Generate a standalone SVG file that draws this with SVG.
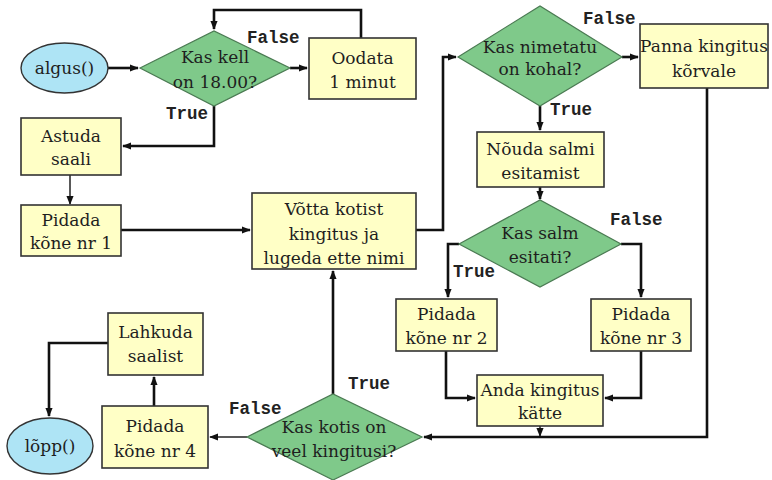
<svg xmlns="http://www.w3.org/2000/svg" width="772" height="480" viewBox="0 0 772 480">
  <defs>
    <marker id="arrow" viewBox="0 0 10 10" refX="9" refY="5" markerWidth="9" markerHeight="9" markerUnits="userSpaceOnUse" orient="auto">
      <path d="M0,1 L10,5 L0,9 z" fill="#111"/>
    </marker>
    <style>
      .box { fill: #ffffc6; stroke: #333; stroke-width: 1.6; }
      .dec { fill: #7fc98a; stroke: #4a7a52; stroke-width: 1.2; }
      .term { fill: #aee4f5; stroke: #333; stroke-width: 1.4; }
      .t { font-family: "DejaVu Serif", "Liberation Serif", serif; font-size: 17px; fill: #1e1e1e; text-anchor: middle; }
      .lbl { font-family: "Liberation Mono", "DejaVu Sans Mono", monospace; font-size: 17.5px; font-weight: bold; fill: #222; }
      .c { fill: none; stroke: #111; stroke-width: 2.6; }
      .thin { fill: none; stroke: #222; stroke-width: 1.5; }
    </style>
  </defs>
  <rect width="772" height="480" fill="#ffffff"/>

  <!-- connectors -->
  <g id="connectors">
    <path class="c" d="M108,68 H138" marker-end="url(#arrow)"/>
    <path class="c" d="M290,68 H307" marker-end="url(#arrow)"/>
    <path class="c" d="M361,38 V10 H214 V29" marker-end="url(#arrow)"/>
    <path class="c" d="M214,106 V146 H123" marker-end="url(#arrow)"/>
    <path class="thin" d="M70,175 V204" marker-end="url(#arrow)"/>
    <path class="c" d="M121,230 H250" marker-end="url(#arrow)"/>
    <path class="c" d="M416,230 H443 V57 H456" marker-end="url(#arrow)"/>
    <path class="c" d="M622,57 H638" marker-end="url(#arrow)"/>
    <path class="c" d="M540,106 V130" marker-end="url(#arrow)"/>
    <path class="c" d="M540,187 V199" marker-end="url(#arrow)"/>
    <path class="c" d="M459,244 H448 V297" marker-end="url(#arrow)"/>
    <path class="c" d="M621,244 H641 V297" marker-end="url(#arrow)"/>
    <path class="c" d="M446,351 V398 H475" marker-end="url(#arrow)"/>
    <path class="c" d="M641,351 V398 H605" marker-end="url(#arrow)"/>
    <path class="thin" d="M540,426 V436" marker-end="url(#arrow)"/>
    <path class="c" d="M707,88 V437 H424" marker-end="url(#arrow)"/>
    <path class="c" d="M333,394 V271" marker-end="url(#arrow)"/>
    <path class="thin" d="M247,437 H210" marker-end="url(#arrow)"/>
    <path class="c" d="M154,406 V377" marker-end="url(#arrow)"/>
    <path class="c" d="M108,343 H49 V416" marker-end="url(#arrow)"/>
  </g>

  <!-- branch labels -->
  <g id="labels">
    <text class="lbl" x="247" y="43">False</text>
    <text class="lbl" x="166" y="119">True</text>
    <text class="lbl" x="583" y="24">False</text>
    <text class="lbl" x="550" y="115">True</text>
    <text class="lbl" x="610" y="225">False</text>
    <text class="lbl" x="453" y="277">True</text>
    <text class="lbl" x="348" y="389">True</text>
    <text class="lbl" x="229" y="414">False</text>
  </g>

  <g id="start">
    <ellipse class="term" cx="64.5" cy="68" rx="43.5" ry="25"/>
    <text class="t" x="64.5" y="74">algus()</text>
  </g>

  <g id="check-time">
    <polygon class="dec" points="140,68 214,31 290,68 214,106"/>
    <text class="t" x="215" y="63">Kas kell</text>
    <text class="t" x="215" y="88">on 18.00?</text>
  </g>

  <g id="wait">
    <rect class="box" x="309" y="38" width="107" height="61"/>
    <text class="t" x="362.5" y="64">Oodata</text>
    <text class="t" x="362.5" y="88">1 minut</text>
  </g>

  <g id="enter-hall">
    <rect class="box" x="21" y="118" width="100" height="57"/>
    <text class="t" x="71" y="142">Astuda</text>
    <text class="t" x="71" y="165">saali</text>
  </g>

  <g id="speech-1">
    <rect class="box" x="21" y="205" width="100" height="51"/>
    <text class="t" x="71" y="226">Pidada</text>
    <text class="t" x="71" y="249">kõne nr 1</text>
  </g>

  <g id="take-gift">
    <rect class="box" x="252" y="193" width="164" height="76"/>
    <text class="t" x="334" y="215">Võtta kotist</text>
    <text class="t" x="334" y="240">kingitus ja</text>
    <text class="t" x="334" y="264">lugeda ette nimi</text>
  </g>

  <g id="check-present">
    <polygon class="dec" points="458,57 540,6 622,57 540,106"/>
    <text class="t" x="540" y="53">Kas nimetatu</text>
    <text class="t" x="540" y="75">on kohal?</text>
  </g>

  <g id="set-aside">
    <rect class="box" x="640" y="24" width="128" height="64"/>
    <text class="t" x="704" y="52">Panna kingitus</text>
    <text class="t" x="704" y="77">kõrvale</text>
  </g>

  <g id="ask-poem">
    <rect class="box" x="477" y="132" width="127" height="55"/>
    <text class="t" x="540.5" y="155">Nõuda salmi</text>
    <text class="t" x="540.5" y="179">esitamist</text>
  </g>

  <g id="check-poem">
    <polygon class="dec" points="459,244 540,200 621,244 540,287"/>
    <text class="t" x="540" y="239">Kas salm</text>
    <text class="t" x="540" y="263">esitati?</text>
  </g>

  <g id="speech-2">
    <rect class="box" x="396" y="299" width="101" height="52"/>
    <text class="t" x="446.5" y="320">Pidada</text>
    <text class="t" x="446.5" y="344">kõne nr 2</text>
  </g>

  <g id="speech-3">
    <rect class="box" x="591" y="299" width="100" height="52"/>
    <text class="t" x="641" y="320">Pidada</text>
    <text class="t" x="641" y="344">kõne nr 3</text>
  </g>

  <g id="hand-over">
    <rect class="box" x="477" y="375" width="126" height="51"/>
    <text class="t" x="540" y="396">Anda kingitus</text>
    <text class="t" x="540" y="419">kätte</text>
  </g>

  <g id="check-bag">
    <polygon class="dec" points="247,437 333,394 422,437 333,480"/>
    <text class="t" x="334" y="433">Kas kotis on</text>
    <text class="t" x="334" y="457">veel kingitusi?</text>
  </g>

  <g id="speech-4">
    <rect class="box" x="102" y="406" width="106" height="62"/>
    <text class="t" x="155" y="432">Pidada</text>
    <text class="t" x="155" y="457">kõne nr 4</text>
  </g>

  <g id="leave-hall">
    <rect class="box" x="108" y="313" width="95" height="62"/>
    <text class="t" x="155.5" y="338">Lahkuda</text>
    <text class="t" x="155.5" y="362">saalist</text>
  </g>

  <g id="end">
    <ellipse class="term" cx="50" cy="446" rx="43" ry="28"/>
    <text class="t" x="50" y="452">lõpp()</text>
  </g>
</svg>
